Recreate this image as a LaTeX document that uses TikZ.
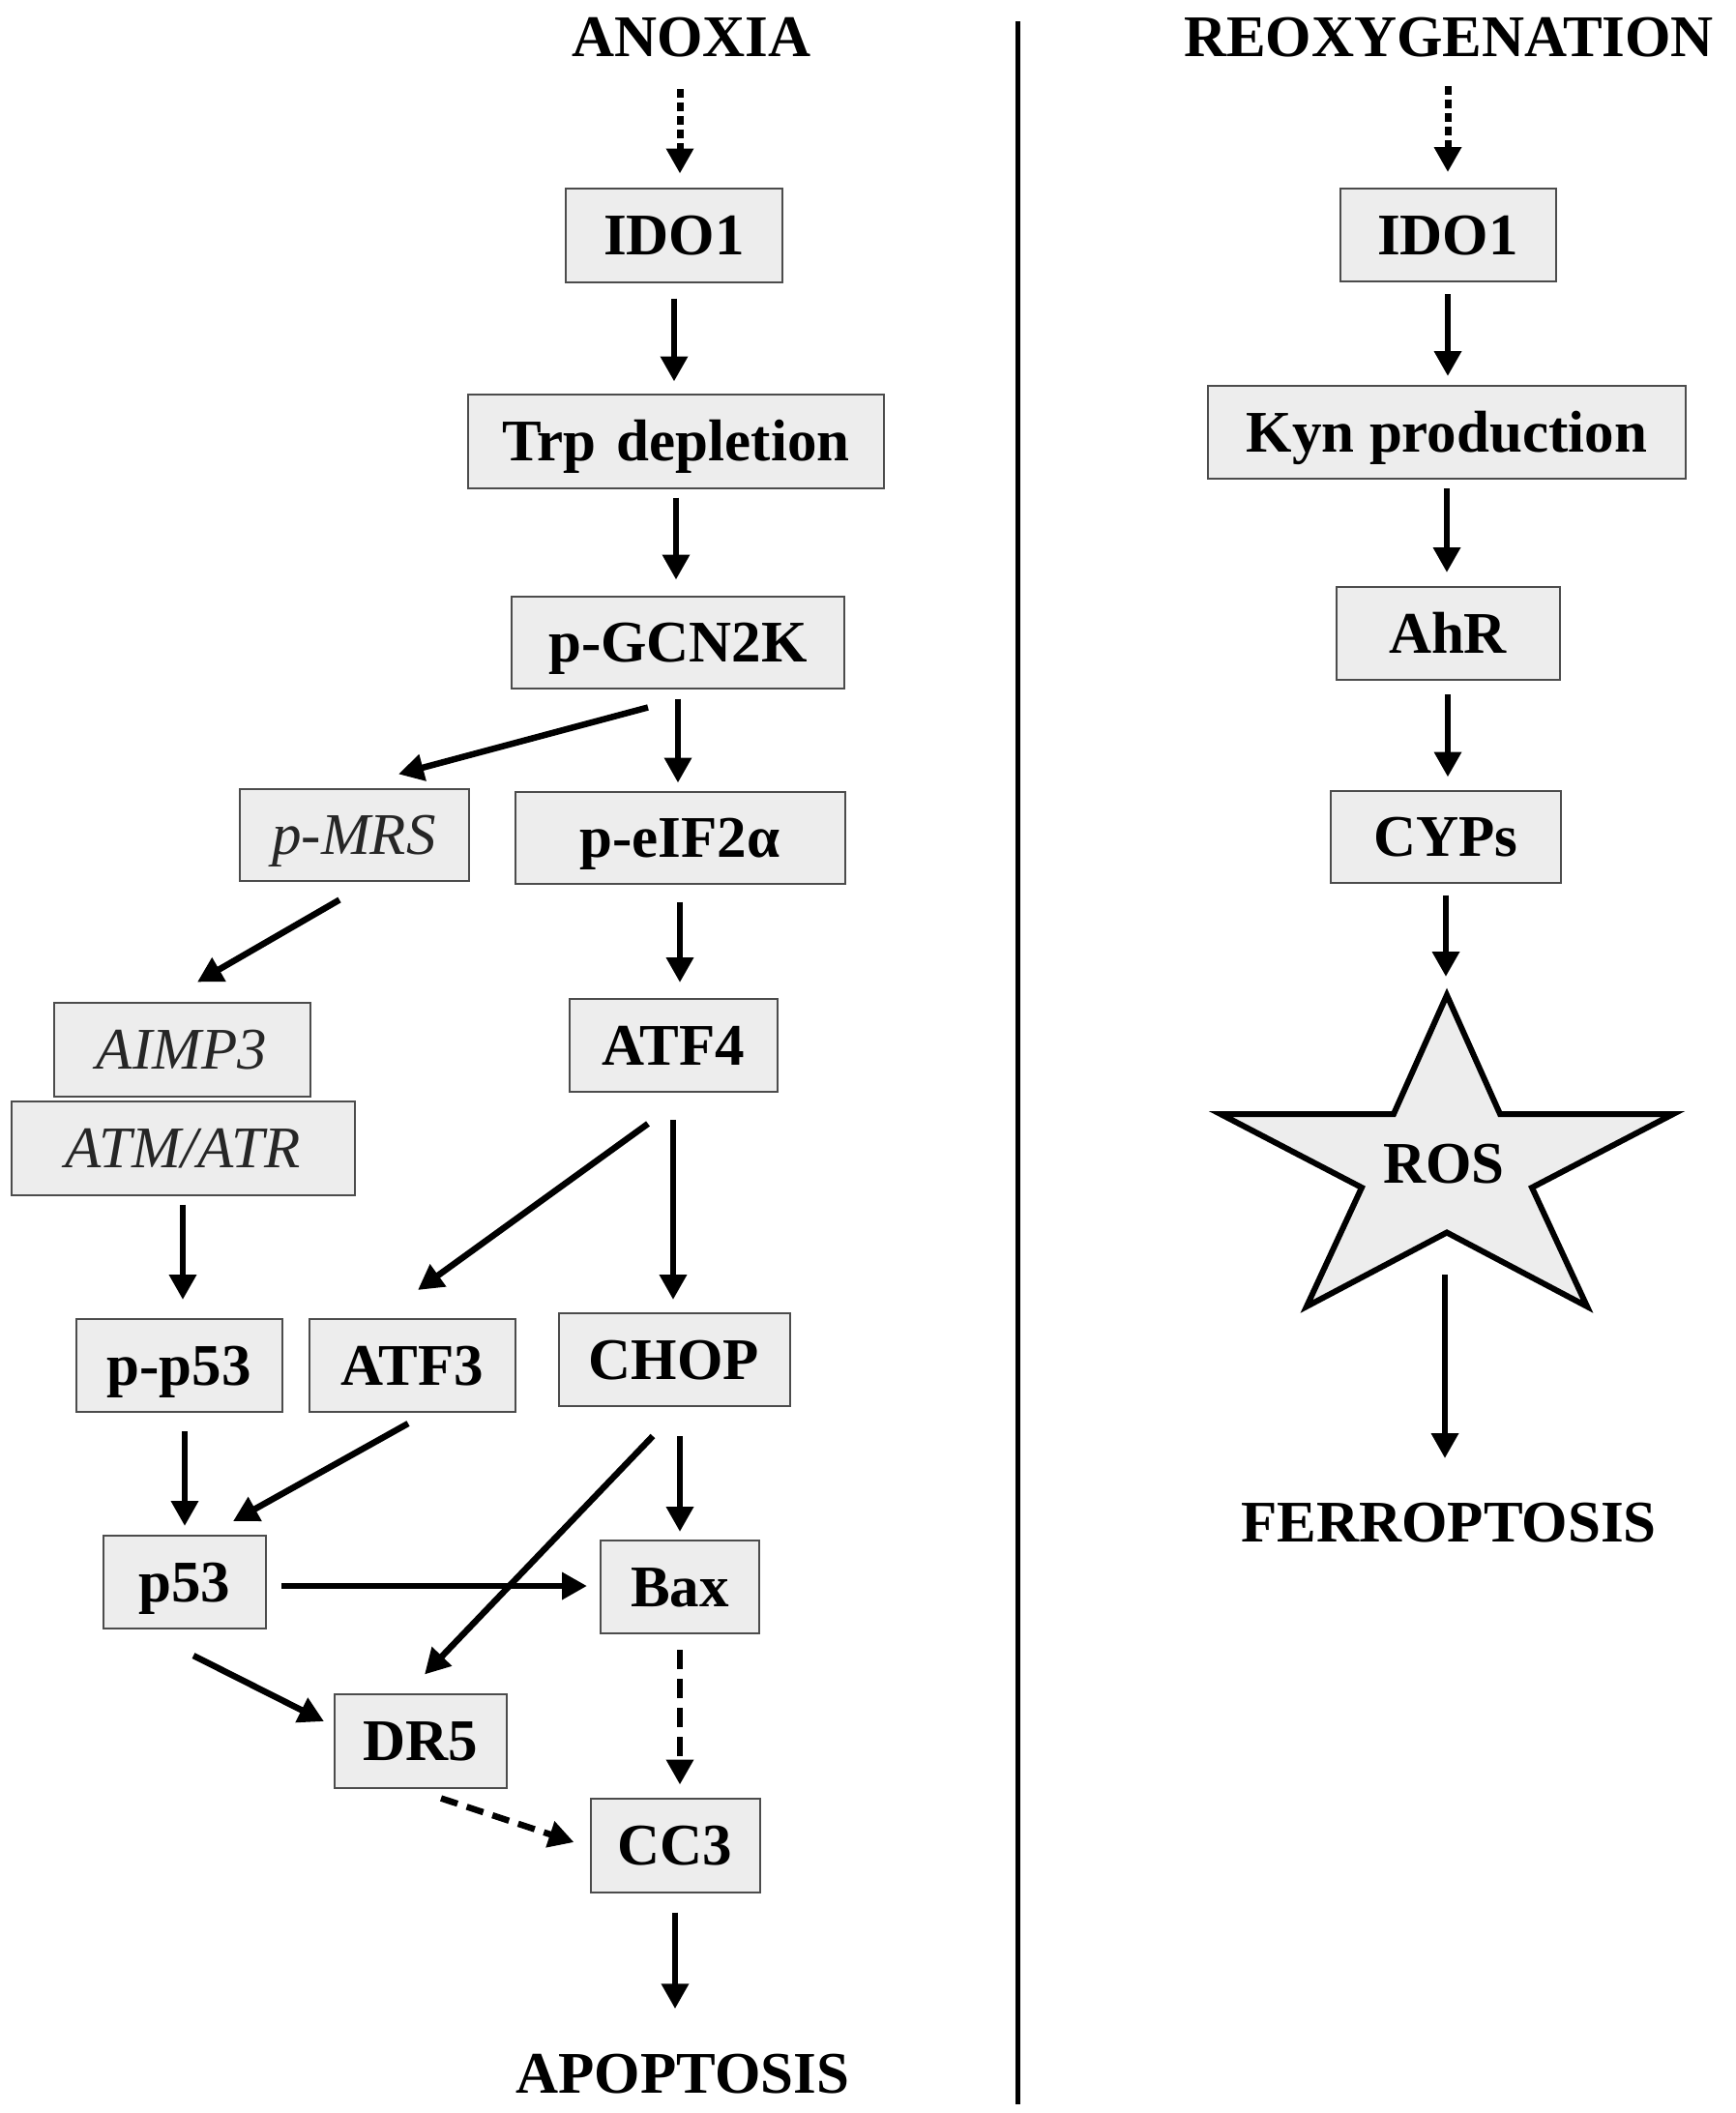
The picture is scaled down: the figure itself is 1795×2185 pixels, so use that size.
\documentclass[tikz,border=0pt]{standalone}
\usepackage{fontspec}
\setmainfont{Liberation Serif}
\usetikzlibrary{arrows.meta,calc}
\begin{document}
\begin{tikzpicture}[x=1pt,y=-1pt,
  box/.style={draw=black!70, line width=2pt, fill=black!7, inner sep=0pt,
    text height=41pt, text depth=0pt, font=\fontsize{61}{70}\selectfont\bfseries},
  ibox/.style={box, font=\fontsize{61}{70}\selectfont\itshape, text=black!85},
  lbl/.style={inner sep=0pt, text height=41pt, text depth=0pt, font=\fontsize{61}{70}\selectfont\bfseries},
  arr/.style={line width=6.5pt, -{Triangle[length=26pt,width=27pt]}},
  dotarr/.style={arr, line width=7pt, dash pattern=on 9pt off 5pt},
  dasharr/.style={arr, dash pattern=on 20pt off 10pt},
  starshape/.style={draw=black, line width=6pt, fill=black!7, line join=miter}
]
\useasboundingbox (0,0) rectangle (1795,2185);

% divider
\draw[line width=5pt] (1052,22) -- (1052,2176);

% headings
\node[lbl] (anoxia) at (715,38) {ANOXIA};
\node[lbl] (reoxy) at (1498,38) {REOXYGENATION};
\node[lbl] (apop) at (706,2144) {APOPTOSIS};
\node[lbl] (ferro) at (1498,1574) {FERROPTOSIS};

% left column boxes
\node[box, minimum width=224pt, minimum height=97pt] (ido1L) at (697,243) {IDO1};
\node[box, minimum width=430pt, minimum height=97pt] (trp) at (699,456) {Trp\hspace{0.1em} depletion};
\node[box, minimum width=344pt, minimum height=95pt] (pgcn) at (701,664) {p-GCN2K};
\node[ibox, minimum width=237pt, minimum height=95pt] (pmrs) at (366,863) {p-MRS};
\node[box, minimum width=341pt, minimum height=95pt] (peif) at (703,866) {p-eIF2α};
\node[ibox, minimum width=265pt, minimum height=97pt] (aimp3) at (188,1085) {AIMP3};
\node[ibox, minimum width=355pt, minimum height=97pt] (atmatr) at (189,1187) {ATM/ATR};
\node[box, minimum width=215pt, minimum height=96pt] (atf4) at (696,1081) {ATF4};
\node[box, minimum width=213pt, minimum height=96pt] (pp53) at (185,1412) {p-p53};
\node[box, minimum width=213pt, minimum height=96pt] (atf3) at (426,1412) {ATF3};
\node[box, minimum width=239pt, minimum height=96pt] (chop) at (697,1406) {CHOP};
\node[box, minimum width=168pt, minimum height=96pt] (p53) at (191,1636) {p53};
\node[box, minimum width=164pt, minimum height=96pt] (bax) at (703,1641) {Bax};
\node[box, minimum width=178pt, minimum height=97pt] (dr5) at (435,1800) {DR5};
\node[box, minimum width=175pt, minimum height=97pt] (cc3) at (698,1908) {CC3};

% right column boxes
\node[box, minimum width=223pt, minimum height=96pt] (ido1R) at (1497,243) {IDO1};
\node[box, minimum width=494pt, minimum height=96pt] (kyn) at (1496,447) {Kyn production};
\node[box, minimum width=231pt, minimum height=96pt] (ahr) at (1497,655) {AhR};
\node[box, minimum width=238pt, minimum height=95pt] (cyps) at (1495,865) {CYPs};

% star
\draw[starshape] (1496,1029) -- (1551,1152) -- (1730,1152) -- (1584,1228) -- (1641,1351)
  -- (1496,1274.5) -- (1351,1351) -- (1408,1228) -- (1262,1152) -- (1441,1152) -- cycle;
\coordinate (startop) at (1496,1029);
\node[lbl] (ros) at (1493,1203) {ROS};
\coordinate (rosout) at (1494,1318);
\coordinate (ferrotip) at (1494,1508);

% left connectors
\draw[dotarr] ($(anoxia)+(-12,54)$) -- ($(ido1L.north)+(6,-14)$);
\draw[arr, shorten <=16pt, shorten >=12pt] (ido1L.south) -- (ido1L.south |- trp.north);
\draw[arr, shorten <=9pt, shorten >=16pt] (trp.south) -- (trp.south |- pgcn.north);
\draw[arr, shorten <=10pt, shorten >=8pt] (pgcn.south) -- (pgcn.south |- peif.north);
\draw[arr] ($(pgcn.south)+(-31,19)$) -- ($(pmrs.north)+(46,-14)$);
\draw[arr, shorten <=18pt, shorten >=16pt] (peif.south) -- (peif.south |- atf4.north);
\draw[arr] ($(pmrs.south)+(-15,19)$) -- ($(aimp3.north)+(16,-20)$);
\draw[arr, shorten <=28pt, shorten >=13pt] (atf4.south) -- (atf4.south |- chop.north);
\draw[arr] ($(atf4.south)+(-26,32)$) -- ($(atf3.north)+(6,-29)$);
\draw[arr, shorten <=9pt, shorten >=19pt] (atmatr.south) -- (atmatr.south |- pp53.north);
\draw[arr, shorten <=19pt, shorten >=9pt] (p53.north |- pp53.south) -- (p53.north);
\draw[arr] ($(atf3.south)+(-4,11)$) -- ($(p53.north)+(50,-14)$);
\draw[arr, shorten <=30pt, shorten >=8pt] (bax.north |- chop.south) -- (bax.north);
\draw[arr] ($(chop.south)+(-22,30)$) -- ($(dr5.north)+(4,-19)$);
\draw[arr] ($(p53.east)+(15,4)$) -- ($(bax.west)+(-13,-1)$);
\draw[arr] ($(p53.south)+(9,27)$) -- ($(dr5.west)+(-10,-20)$);
\draw[dasharr, shorten <=16pt, shorten >=13pt] (bax.south) -- (bax.south |- cc3.north);
\draw[dasharr, dash pattern=on 18pt off 10pt] ($(dr5.south)+(21,10)$) -- ($(cc3.west)+(-16,-3)$);
\draw[arr, shorten <=20pt, shorten >=46pt] (cc3.south) -- (cc3.south |- apop.north);

% right connectors
\draw[dotarr] ($(reoxy)+(-1,51)$) -- ($(ido1R.north)+(0,-16)$);
\draw[arr, shorten <=12pt, shorten >=9pt] (ido1R.south) -- (ido1R.south |- kyn.north);
\draw[arr, shorten <=9pt, shorten >=14pt] (kyn.south) -- (kyn.south |- ahr.north);
\draw[arr, shorten <=14pt, shorten >=13pt] (ahr.south) -- (ahr.south |- cyps.north);
\draw[arr, shorten <=12pt, shorten >=19pt] (cyps.south) -- (cyps.south |- startop);
\draw[arr] (rosout) -- (ferrotip);
\end{tikzpicture}
\end{document}
